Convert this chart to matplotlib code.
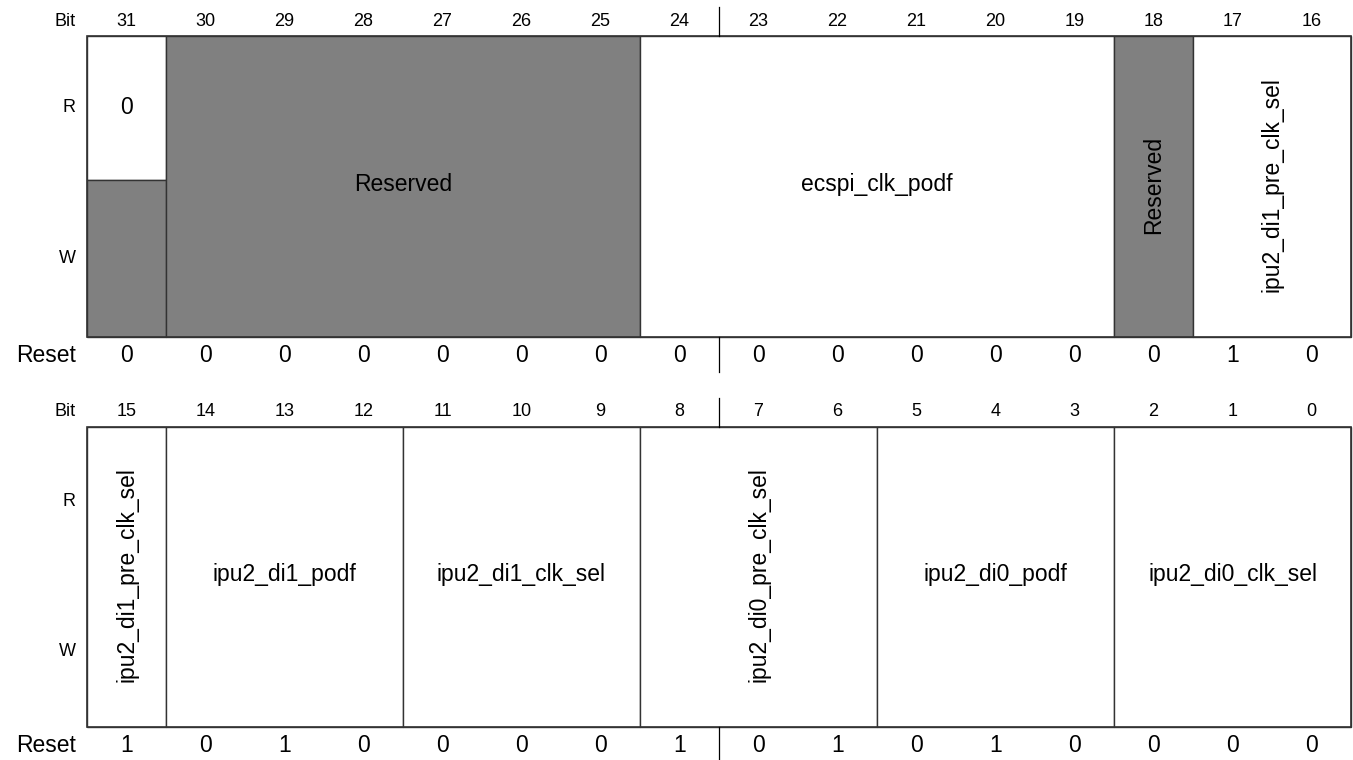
import matplotlib
matplotlib.use("Agg")
import matplotlib.pyplot as plt
from matplotlib.patches import Rectangle

plt.rcParams['font.family'] = ['Liberation Sans', 'DejaVu Sans']

# register fields, one row per half word
top_bits = list(range(31, 15, -1))
top_names = ["", "Reserved", "ecspi_clk_podf", "Reserved", "ipu2_di1_pre_clk_sel"]
top_msb = [31, 30, 24, 18, 17]
top_lsb = [31, 25, 19, 18, 16]
top_reserved = [False, True, False, True, False]
top_reset = [0, 0, 0, 0, 0, 0, 0, 0, 0, 0, 0, 0, 0, 0, 1, 0]

bot_bits = list(range(15, -1, -1))
bot_names = ["ipu2_di1_pre_clk_sel", "ipu2_di1_podf", "ipu2_di1_clk_sel",
             "ipu2_di0_pre_clk_sel", "ipu2_di0_podf", "ipu2_di0_clk_sel"]
bot_msb = [15, 14, 11, 8, 5, 2]
bot_lsb = [15, 12, 9, 6, 3, 0]
bot_reserved = [False] * 6
bot_reset = [1, 0, 1, 0, 0, 0, 0, 1, 0, 1, 0, 1, 0, 0, 0, 0]

# names written sideways in the boxes
vertical_names = ["Reserved@18", "ipu2_di1_pre_clk_sel", "ipu2_di0_pre_clk_sel"]

# bit 31 reads as 0 and is reserved for write
readonly_bit = 31
readonly_value = "0"

GRAY = "#808080"
EDGE = "#333333"
X0 = 87.0
CW = 79.0

fig = plt.figure(figsize=(13.53, 7.6), dpi=100)
ax = fig.add_axes([0, 0, 1, 1])
ax.set_xlim(0, 1353)
ax.set_ylim(760, 0)
ax.axis("off")


def col_x(bit, first):
    return X0 + (first - bit) * CW


def draw_row(bits, names, msb, lsb, reserved, reset, ytop, ysplit, ybot, ybit, yreset):
    first = bits[0]
    ymid = (ytop + ybot) / 2.0 - 2
    ax.text(76, ybit, "Bit", ha="right", va="center", fontsize=13)
    for b in bits:
        ax.text(col_x(b, first) + CW / 2, ybit, str(b), ha="center", va="center", fontsize=13)
    ax.text(76, (ytop + ysplit) / 2, "R", ha="right", va="center", fontsize=13)
    ax.text(76, (ysplit + ybot) / 2, "W", ha="right", va="center", fontsize=13)
    for name, m, l, res in zip(names, msb, lsb, reserved):
        x1 = col_x(m, first)
        x2 = col_x(l, first) + CW
        if m == readonly_bit and l == readonly_bit:
            ax.add_patch(Rectangle((x1, ytop), x2 - x1, ysplit - ytop, fc="white", ec=EDGE, lw=1.0))
            ax.add_patch(Rectangle((x1, ysplit), x2 - x1, ybot - ysplit, fc=GRAY, ec=EDGE, lw=1.0))
            ax.text((x1 + x2) / 2, (ytop + ysplit) / 2, readonly_value, ha="center", va="center",
                    fontsize=16.5)
            continue
        ax.add_patch(Rectangle((x1, ytop), x2 - x1, ybot - ytop,
                               fc=GRAY if res else "white", ec=EDGE, lw=1.0))
        vert = name in vertical_names or "%s@%d" % (name, m) in vertical_names
        ax.text((x1 + x2) / 2, ymid, name, ha="center", va="center",
                rotation=90 if vert else 0, fontsize=16.5, rotation_mode="anchor")
    ax.add_patch(Rectangle((X0, ytop), 16 * CW, ybot - ytop, fc="none", ec=EDGE, lw=1.2))
    ax.text(76, yreset, "Reset", ha="right", va="center", fontsize=16.5)
    for b, v in zip(bits, reset):
        ax.text(col_x(b, first) + CW / 2, yreset, str(v), ha="center", va="center", fontsize=16.5)
    xc = X0 + 8 * CW
    ax.plot([xc, xc], [ybit - 14, ytop], color="black", lw=0.9)
    ax.plot([xc, xc], [ybot, yreset + 16], color="black", lw=0.9)


draw_row(top_bits, top_names, top_msb, top_lsb, top_reserved, top_reset, 36, 180, 337, 21, 356)
draw_row(bot_bits, bot_names, bot_msb, bot_lsb, bot_reserved, bot_reset, 427, 577, 727, 412, 746)

fig.savefig("out.png", dpi=100)
